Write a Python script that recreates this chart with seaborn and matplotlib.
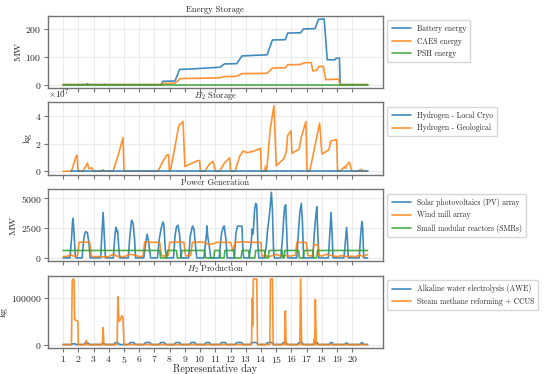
import numpy as np
import pandas as pd
import matplotlib
matplotlib.use("Agg")
import matplotlib.pyplot as plt
import seaborn as sns

# breakpoints (representative day, value)
battery = [(1.0, 0), (2.55, 0), (2.6, 3), (2.65, 0), (3.65, 0), (3.7, 2), (3.75, 0), (7.45, 0),
           (7.55, 12), (8.35, 13), (8.65, 55), (9.5, 57), (10.4, 60), (11.3, 63), (11.6, 75),
           (12.4, 76), (12.75, 104), (13.5, 106), (14.4, 108), (14.75, 162), (15.6, 163),
           (15.75, 187), (16.6, 188), (16.78, 202), (17.55, 203), (17.78, 237), (18.15, 238),
           (18.35, 90), (18.85, 90), (18.95, 96), (19.15, 96), (19.2, 0), (21.0, 0)]
caes = [(1.0, 0), (7.45, 0), (7.55, 4), (8.35, 5), (8.7, 22), (10.0, 23), (11.3, 25), (11.6, 29),
        (12.4, 30), (12.75, 40), (14.4, 41), (14.75, 60), (15.6, 61), (15.75, 72), (16.6, 73),
        (16.8, 79), (17.3, 80), (17.4, 50), (17.65, 52), (17.8, 66), (18.1, 66), (18.25, 18),
        (19.1, 20), (19.2, 0), (21.0, 0)]
psh = [(1.0, 0), (21.0, 0)]

h2_cryo = [(1.55, 0), (21.0, 0)]
h2_geo = [(1.0, 0), (1.55, 0), (1.83, 1.0e7), (1.92, 1.17e7), (1.98, 0), (2.31, 0), (2.6, 0.6e7),
          (2.68, 0.2e7), (2.8, 0.22e7), (2.9, 0.25e7), (2.98, 0), (3.55, 0), (3.63, 0.12e7),
          (3.7, 0), (4.28, 0), (4.6, 1.1e7), (4.94, 2.44e7), (5.0, 0), (7.24, 0), (7.5, 0.6e7),
          (7.8, 1.17e7), (7.93, 1.2e7), (7.98, 0), (8.05, 0.05e7), (8.3, 1.5e7), (8.6, 3.3e7),
          (8.88, 3.62e7), (9.0, 0.35e7), (9.4, 0.55e7), (9.8, 0.75e7), (9.97, 0.78e7), (10.02, 0),
          (10.3, 0), (10.6, 0.5e7), (10.85, 0.73e7), (11.0, 0), (11.28, 0), (11.6, 0.6e7),
          (11.94, 0.98e7), (12.0, 0), (12.3, 0), (12.6, 1.1e7), (12.82, 1.46e7), (13.1, 1.35e7),
          (13.5, 1.45e7), (13.97, 1.66e7), (14.02, 0), (14.25, 0), (14.3, 0.37e7), (14.35, 0),
          (14.4, 0.4e7), (14.6, 3.0e7), (14.85, 4.76e7), (15.0, 0.4e7), (15.5, 0.9e7),
          (15.66, 1.4e7), (15.75, 2.6e7), (15.97, 2.93e7), (16.03, 1.3e7), (16.5, 1.6e7),
          (16.65, 2.5e7), (16.95, 3.6e7), (17.02, 0), (17.2, 0), (17.5, 1.6e7), (17.85, 3.5e7),
          (18.0, 1.25e7), (18.45, 1.55e7), (18.6, 2.2e7), (18.97, 2.3e7), (19.03, 0), (19.2, 0),
          (19.5, 0.35e7), (19.55, 0.2e7), (19.6, 0.4e7), (19.8, 0.66e7), (19.97, 0), (20.4, 0),
          (20.45, 0.1e7), (20.5, 0), (20.6, 0.15e7), (20.65, 0), (21.0, 0)]

solar = [(1.0, 0), (1.45, 0), (1.55, 1500), (1.62, 3000), (1.66, 3300), (1.7, 2500), (1.8, 300), (1.85, 0),
         (2.25, 0), (2.35, 1500), (2.42, 2000), (2.5, 2200), (2.6, 2100), (2.7, 1200), (2.78, 0),
         (3.47, 0), (3.55, 2000), (3.63, 3800), (3.7, 2000), (3.78, 0),
         (4.3, 0), (4.4, 1800), (4.47, 2550), (4.52, 2200), (4.58, 2300), (4.65, 1000), (4.72, 0),
         (5.28, 0), (5.4, 2000), (5.5, 3150), (5.6, 2900), (5.7, 1500), (5.76, 0),
         (6.3, 0), (6.42, 1200), (6.52, 1970), (6.6, 1500), (6.7, 500), (6.75, 0),
         (7.2, 0), (7.32, 1600), (7.45, 2500), (7.55, 3000), (7.62, 2800), (7.72, 600), (7.8, 0),
         (8.25, 0), (8.35, 1800), (8.45, 2600), (8.55, 2730), (8.65, 2000), (8.75, 0),
         (9.25, 0), (9.35, 1800), (9.5, 2670), (9.6, 2400), (9.7, 1000), (9.78, 0),
         (10.25, 0), (10.35, 1200), (10.42, 2000), (10.45, 2670), (10.5, 1800), (10.6, 1000), (10.7, 0),
         (11.25, 0), (11.4, 2000), (11.5, 2500), (11.58, 2670), (11.7, 1500), (11.78, 0),
         (12.25, 0), (12.35, 2000), (12.45, 2650), (12.75, 2650), (12.8, 1000), (12.86, 0),
         (13.22, 0), (13.35, 1200), (13.42, 2400), (13.48, 2000), (13.58, 4000), (13.65, 4550),
         (13.72, 4400), (13.8, 1000), (13.86, 0),
         (14.22, 0), (14.35, 1000), (14.42, 2200), (14.5, 3000), (14.6, 4200), (14.68, 5480),
         (14.75, 4000), (14.82, 800), (14.88, 0),
         (15.3, 0), (15.42, 1800), (15.5, 3500), (15.55, 4200), (15.62, 4440), (15.68, 2500), (15.75, 0),
         (16.35, 0), (16.45, 2000), (16.55, 3800), (16.65, 4550), (16.72, 3000), (16.8, 0),
         (17.4, 0), (17.5, 2000), (17.6, 3500), (17.67, 4270), (17.73, 2000), (17.8, 0),
         (18.42, 0), (18.52, 2000), (18.6, 3800), (18.67, 2000), (18.73, 0),
         (19.45, 0), (19.55, 1500), (19.62, 2530), (19.68, 1500), (19.73, 0),
         (20.45, 0), (20.55, 2000), (20.63, 3030), (20.68, 2500), (20.75, 0), (21.0, 0)]
wind = [(1.0, 100), (1.33, 150), (1.5, 300), (1.66, 150), (1.94, 150), (2.05, 1300), (2.4, 1320),
        (2.75, 1300), (2.86, 150), (3.0, 100), (3.3, 120), (3.6, 80), (4.0, 100), (4.2, 250),
        (4.35, 300), (4.5, 150), (5.0, 100), (5.4, 300), (5.6, 250), (5.9, 150), (6.1, 100),
        (6.25, 150), (6.36, 1300), (6.5, 1350), (6.8, 1300), (7.2, 1300), (7.35, 1250),
        (7.46, 200), (7.6, 150), (7.8, 200), (7.9, 200), (8.0, 1300), (8.5, 1320), (8.94, 1300),
        (9.05, 150), (9.2, 200), (9.38, 200), (9.49, 1300), (10.0, 1320), (10.26, 1300),
        (10.6, 1100), (10.9, 1200), (11.1, 1300), (11.6, 1300), (12.0, 1280), (12.15, 600),
        (12.3, 1300), (12.8, 1350), (13.4, 1300), (14.0, 1300), (14.05, 150), (14.3, 200),
        (14.5, 100), (14.8, 200), (15.0, 300), (15.3, 150), (15.6, 200), (15.9, 150), (16.1, 200),
        (16.25, 200), (16.36, 1300), (16.97, 1300), (17.08, 200), (17.3, 150), (17.37, 150),
        (17.48, 1100), (17.74, 1100), (17.8, 200), (18.0, 150), (18.3, 300), (18.5, 250),
        (18.8, 150), (19.0, 100), (19.3, 200), (19.6, 100), (19.9, 150), (20.2, 100), (20.5, 250),
        (20.7, 100), (21.0, 300)]
smr = [(1.0, 620), (7.35, 620), (7.4, 0), (7.8, 0), (7.85, 620), (8.45, 620), (8.5, 0), (8.75, 0),
       (8.8, 620), (10.3, 620), (10.35, 0), (10.9, 0), (10.95, 620), (11.28, 620), (11.33, 0),
       (11.58, 0), (11.63, 620), (12.2, 620), (12.25, 0), (12.7, 0), (12.75, 620), (13.19, 620),
       (13.24, 0), (13.6, 0), (13.65, 620), (14.24, 620), (14.29, 0), (14.48, 0), (14.53, 620),
       (15.38, 620), (15.42, 0), (15.52, 0), (15.56, 620), (16.47, 620), (16.52, 0), (16.78, 0),
       (16.83, 620), (17.41, 620), (17.46, 0), (17.66, 0), (17.71, 620), (21.0, 620)]

awe = [(1.0, 0), (1.55, 0), (1.62, 1500), (1.8, 1500), (1.85, 0), (2.35, 0), (2.45, 3000),
       (2.65, 3000), (2.75, 0), (3.5, 0), (3.58, 2000), (3.7, 2000), (3.78, 0),
       (4.32, 0), (4.42, 4000), (4.6, 4000), (4.7, 0), (5.3, 0), (5.42, 4300), (5.65, 4300), (5.75, 0),
       (6.3, 0), (6.42, 4300), (6.7, 4300), (6.8, 0), (7.3, 0), (7.42, 4300), (7.65, 4300), (7.75, 0),
       (8.3, 0), (8.42, 4300), (8.65, 4300), (8.75, 0), (9.3, 0), (9.42, 4300), (9.65, 4300), (9.75, 0),
       (10.3, 0), (10.4, 4300), (10.6, 4300), (10.7, 0), (11.3, 0), (11.42, 4300), (11.65, 4300),
       (11.75, 0), (12.3, 0), (12.42, 4300), (12.72, 4300), (12.82, 0), (13.3, 0), (13.42, 4300),
       (13.7, 4300), (13.8, 0), (14.3, 0), (14.45, 4300), (14.72, 4300), (14.82, 0),
       (15.35, 0), (15.47, 4300), (15.65, 4300), (15.72, 0), (16.4, 0), (16.5, 4300), (16.7, 4300),
       (16.78, 0), (17.45, 0), (17.53, 4000), (17.7, 4000), (17.77, 0), (18.48, 0), (18.56, 4000),
       (18.68, 4000), (18.74, 0), (19.5, 0), (19.57, 3000), (19.67, 3000), (19.72, 0),
       (20.5, 0), (20.58, 3500), (20.68, 3500), (20.74, 0), (21.0, 0)]
smr_ccus = [(1.0, 0), (1.55, 0), (1.6, 135000), (1.65, 140000), (1.72, 138000), (1.76, 53000),
            (1.9, 51000), (1.97, 50000), (2.0, 0), (2.48, 0), (2.53, 9000), (2.58, 0), (3.58, 0),
            (3.63, 36000), (3.68, 0), (4.55, 0), (4.6, 102000), (4.67, 50000), (4.75, 52000),
            (4.85, 61000), (4.93, 60000), (5.0, 0), (13.38, 0), (13.42, 98000), (13.45, 40000),
            (13.5, 140000), (13.72, 140000), (13.77, 0), (14.58, 0), (14.62, 140000),
            (14.75, 140000), (14.8, 0), (15.55, 0), (15.6, 72000), (15.65, 0), (16.55, 0),
            (16.6, 140000), (16.67, 0), (17.45, 0), (17.5, 12000), (17.53, 0), (17.57, 96000),
            (17.63, 0), (21.0, 0)]

day_ticks = list(range(1, 21))

panels = [
    ("Energy Storage", "MW", [("Battery energy", battery), ("CAES energy", caes), ("PSH energy", psh)]),
    ("$H_2$ Storage", "kg", [("Hydrogen - Local Cryo", h2_cryo), ("Hydrogen - Geological", h2_geo)]),
    ("Power Generation", "MW", [("Solar photovoltaics (PV) array", solar), ("Wind mill array", wind),
                                ("Small modular reactors (SMRs)", smr)]),
    ("$H_2$ Production", "kg", [("Alkaline water electrolysis (AWE)", awe),
                                ("Steam methane reforming + CCUS", smr_ccus)]),
]

sns.set_style("whitegrid", {"axes.edgecolor": "0.45", "grid.color": "0.92",
                            "xtick.bottom": True, "ytick.left": True})
plt.rcParams["font.family"] = "serif"
plt.rcParams["font.serif"] = ["cmr10"]
plt.rcParams["mathtext.fontset"] = "cm"
plt.rcParams["axes.formatter.use_mathtext"] = True
plt.rcParams["axes.unicode_minus"] = False
plt.rcParams["xtick.color"] = "0.45"
plt.rcParams["ytick.color"] = "0.45"
plt.rcParams["xtick.labelcolor"] = "0.15"
plt.rcParams["ytick.labelcolor"] = "0.15"

colors = sns.color_palette("tab10", 3)

fig, axes = plt.subplots(4, 1, figsize=(5.5, 3.74), dpi=100, sharex=True)
fig.subplots_adjust(left=0.087, right=0.696, top=0.958, bottom=0.07, hspace=0.2)

for ax, (title, ylab, series) in zip(axes, panels):
    for i, (name, pts) in enumerate(series):
        df = pd.DataFrame(pts, columns=["day", "value"])
        z = 2
        if title.startswith("$H_2$ St") and i == 0:
            z = 3
        sns.lineplot(data=df, x="day", y="value", ax=ax, label=name, color=colors[i],
                     linewidth=1.2, alpha=0.85, estimator=None, sort=False, zorder=z)
    ax.set_title(title, fontsize=6.2, pad=3)
    ax.set_ylabel(ylab, fontsize=7, labelpad=2)
    ax.set_xlabel("")
    ax.tick_params(labelsize=7, length=3, width=0.8, pad=1.5)
    ax.yaxis.get_offset_text().set_fontsize(6.5)
    for sp in ax.spines.values():
        sp.set_linewidth(1.0)
    ax.legend(loc="upper left", bbox_to_anchor=(1.0, 1.0), fontsize=5.5, frameon=True,
              handlelength=2.5, borderaxespad=0.6, labelspacing=0.55, borderpad=0.55)

axes[0].set_yticks([0, 100, 200])
axes[1].set_yticks([0, 2e7, 4e7])
axes[2].set_yticks([0, 2500, 5000])
axes[3].set_yticks([0, 100000])
axes[-1].set_xticks(day_ticks)
axes[-1].set_xlim(0, 22)
axes[-1].set_xlabel("Representative day", fontsize=7.2, labelpad=-0.5)

fig.savefig("out.png", dpi=100)
